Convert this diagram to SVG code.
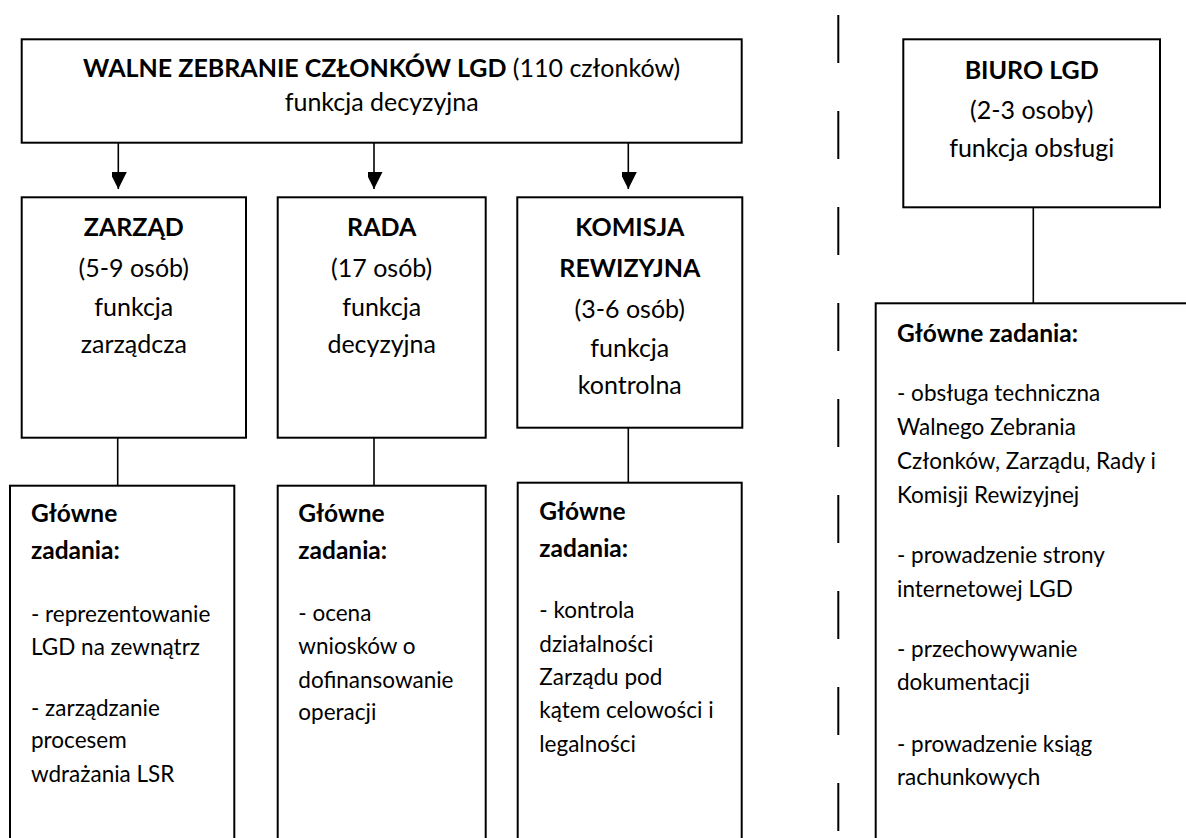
<svg xmlns="http://www.w3.org/2000/svg" width="1186" height="838" viewBox="0 0 1186 838">
<defs>
<style>
.box{fill:#fff;stroke:#000;stroke-width:2}
.ln{stroke:#000;stroke-width:1.6;fill:none}
.dash{stroke:#000;stroke-width:2;stroke-dasharray:48 48;fill:none}
text{font-family:Lato,"Liberation Sans",sans-serif;fill:#000}
.c{font-size:25px;text-anchor:middle}
.l{font-size:22.5px}
.b{font-weight:bold}
.hb{font-size:24.5px;font-weight:bold}
</style>
<marker id="ah" markerWidth="17" markerHeight="15" refX="17" refY="8.5" orient="auto" markerUnits="userSpaceOnUse">
<path d="M0,0 L17,8.5 L0,17 Z" fill="#000"/>
</marker>
</defs>
<rect width="1186" height="838" fill="#fff"/>
<g id="connectors">
<line class="ln" x1="118.3" y1="142.7" x2="118.3" y2="189" stroke-width="2" marker-end="url(#ah)"/>
<line class="ln" x1="374" y1="142.7" x2="374" y2="189" stroke-width="2" marker-end="url(#ah)"/>
<line class="ln" x1="628.3" y1="142.7" x2="628.3" y2="189" stroke-width="2" marker-end="url(#ah)"/>
<line class="ln" x1="117.7" y1="437.7" x2="117.7" y2="485.7"/>
<line class="ln" x1="374" y1="437.7" x2="374" y2="485.7"/>
<line class="ln" x1="628.3" y1="427.7" x2="628.3" y2="482.7"/>
<line class="ln" x1="1033.3" y1="207.3" x2="1033.3" y2="303.3"/>
<line class="dash" x1="838.3" y1="15" x2="838.3" y2="838"/>
</g>
<g id="walne">
<rect class="box" x="21.7" y="39.3" width="720" height="103.4"/>
<text class="c" x="381.7" y="76.7"><tspan class="b">WALNE ZEBRANIE CZŁONKÓW LGD</tspan> (110 członków)</text>
<text class="c" x="381.7" y="110.7">funkcja decyzyjna</text>
</g>
<g id="zarzad">
<rect class="box" x="21.7" y="197.3" width="224.3" height="240.4"/>
<text class="c b" x="133.8" y="235.7">ZARZĄD</text>
<text class="c" x="133.8" y="277">(5-9 osób)</text>
<text class="c" x="133.8" y="316">funkcja</text>
<text class="c" x="133.8" y="352.7">zarządcza</text>
</g>
<g id="rada">
<rect class="box" x="277.7" y="197.3" width="208" height="240.4"/>
<text class="c b" x="381.7" y="235.7">RADA</text>
<text class="c" x="381.7" y="277">(17 osób)</text>
<text class="c" x="381.7" y="316">funkcja</text>
<text class="c" x="381.7" y="352.7">decyzyjna</text>
</g>
<g id="komisja">
<rect class="box" x="517.3" y="197.3" width="225" height="230.4"/>
<text class="c b" x="629.8" y="235.7">KOMISJA</text>
<text class="c b" x="629.8" y="276.7">REWIZYJNA</text>
<text class="c" x="629.8" y="318">(3-6 osób)</text>
<text class="c" x="629.8" y="356.7">funkcja</text>
<text class="c" x="629.8" y="394">kontrolna</text>
</g>
<g id="zadania-zarzad">
<rect class="box" x="10" y="485.7" width="224.3" height="370"/>
<text class="hb" x="31" y="521.7">Główne</text>
<text class="hb" x="31" y="559.3">zadania:</text>
<text class="l" x="31" y="621.7">- reprezentowanie</text>
<text class="l" x="31" y="655">LGD na zewnątrz</text>
<text class="l" x="31" y="716">- zarządzanie</text>
<text class="l" x="31" y="748.3">procesem</text>
<text class="l" x="31" y="781.7">wdrażania LSR</text>
</g>
<g id="zadania-rada">
<rect class="box" x="277.7" y="485.7" width="208" height="370"/>
<text class="hb" x="298.3" y="521.7">Główne</text>
<text class="hb" x="298.3" y="559.3">zadania:</text>
<text class="l" x="298.3" y="620.7">- ocena</text>
<text class="l" x="298.3" y="654.3">wniosków o</text>
<text class="l" x="298.3" y="687.7">dofinansowanie</text>
<text class="l" x="298.3" y="720">operacji</text>
</g>
<g id="zadania-komisja">
<rect class="box" x="517.7" y="482.7" width="224" height="370"/>
<text class="hb" x="539.3" y="520">Główne</text>
<text class="hb" x="539.3" y="557.3">zadania:</text>
<text class="l" x="539.3" y="618.3">- kontrola</text>
<text class="l" x="539.3" y="651.7">działalności</text>
<text class="l" x="539.3" y="685">Zarządu pod</text>
<text class="l" x="539.3" y="718.3">kątem celowości i</text>
<text class="l" x="539.3" y="751.7">legalności</text>
</g>
<g id="biuro">
<rect class="box" x="903.3" y="39.3" width="256.7" height="168"/>
<text class="c b" x="1031.7" y="79">BIURO LGD</text>
<text class="c" x="1031.7" y="119.3">(2-3 osoby)</text>
<text class="c" x="1031.7" y="156.7">funkcja obsługi</text>
</g>
<g id="zadania-biuro">
<rect class="box" x="875.7" y="303.3" width="330" height="560"/>
<text class="hb" x="897" y="341.5">Główne zadania:</text>
<text class="l" x="897" y="401">- obsługa techniczna</text>
<text class="l" x="897" y="435">Walnego Zebrania</text>
<text class="l" x="897" y="469">Członków, Zarządu, Rady i</text>
<text class="l" x="897" y="503.3">Komisji Rewizyjnej</text>
<text class="l" x="897" y="563.3">- prowadzenie strony</text>
<text class="l" x="897" y="596.7">internetowej LGD</text>
<text class="l" x="897" y="656.7">- przechowywanie</text>
<text class="l" x="897" y="690">dokumentacji</text>
<text class="l" x="897" y="751.7">- prowadzenie ksiąg</text>
<text class="l" x="897" y="785">rachunkowych</text>
</g>
</svg>
